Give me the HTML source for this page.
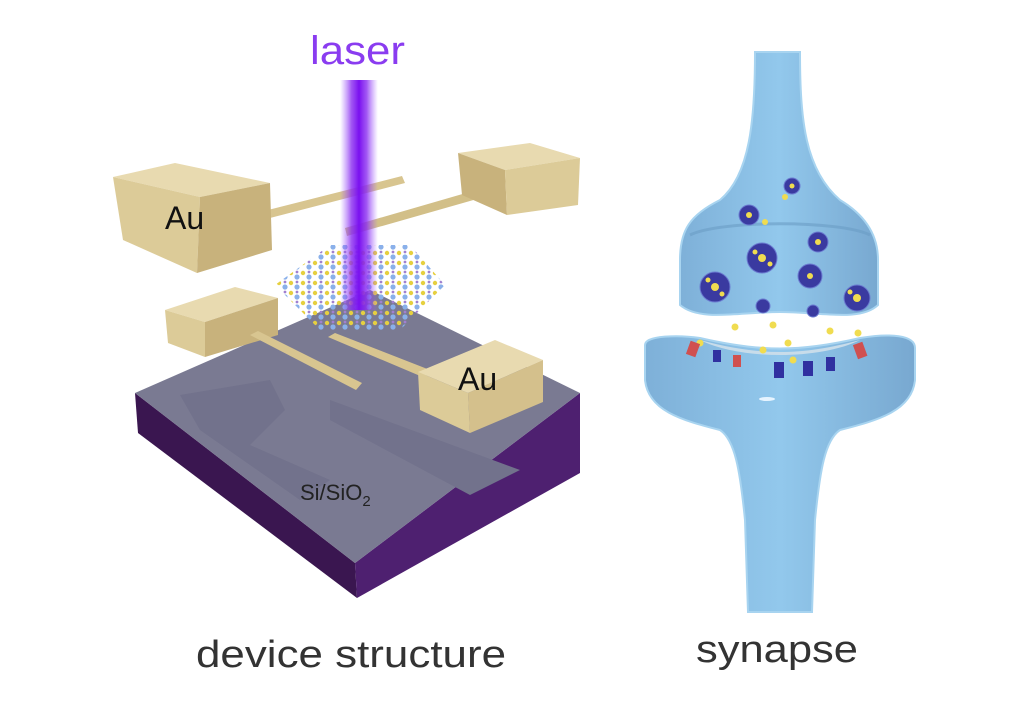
<!DOCTYPE html>
<html><head><meta charset="utf-8"><style>
html,body{margin:0;padding:0;background:#fff;width:1015px;height:720px;overflow:hidden}
svg{display:block}
</style></head><body>
<svg width="1015" height="720" viewBox="0 0 1015 720" xmlns="http://www.w3.org/2000/svg">
<defs>
<linearGradient id="beam" x1="0" x2="1" y1="0" y2="0">
<stop offset="0" stop-color="#a060ff" stop-opacity="0"/>
<stop offset="0.3" stop-color="#8a2cf0" stop-opacity="0.8"/>
<stop offset="0.5" stop-color="#7a10f0"/>
<stop offset="0.7" stop-color="#8a2cf0" stop-opacity="0.8"/>
<stop offset="1" stop-color="#a060ff" stop-opacity="0"/>
</linearGradient>
<linearGradient id="syn" x1="0" x2="1">
<stop offset="0" stop-color="#7eb0d8"/>
<stop offset="0.5" stop-color="#92c8ec"/>
<stop offset="1" stop-color="#78a8d0"/>
</linearGradient>
<pattern id="lat" width="12" height="10" patternUnits="userSpaceOnUse">
<circle cx="3" cy="3" r="2.2" fill="#e6d040"/>
<circle cx="9" cy="7" r="2.6" fill="#8ab0ea"/>
<circle cx="9" cy="2" r="1.4" fill="#a080d0"/>
</pattern>
</defs>

<text x="310" y="64" textLength="95" lengthAdjust="spacingAndGlyphs" font-family="Liberation Sans, sans-serif" font-size="40" fill="#8a3cf0">laser</text>

<!-- substrate -->
<polygon points="135,393 355,563 357,598 138,433" fill="#3a1650"/>
<polygon points="355,563 580,393 580,473 357,598" fill="#4e2070"/>
<polygon points="135,393 370,290 580,393 355,563" fill="#7a7a92"/>
<polygon points="180,395 270,380 285,410 250,445 330,480 300,500 200,430" fill="#72728c"/>
<polygon points="330,400 520,470 470,495 330,420" fill="#72728c"/>
<text x="300" y="500" font-family="Liberation Sans, sans-serif" font-size="22" fill="#222">Si/SiO<tspan font-size="15" dy="6">2</tspan></text>

<!-- top bars -->
<polygon points="268,210 402,176 405,183 270,218" fill="#d8c590"/>
<polygon points="497,184 345,228 347,236 498,193" fill="#d2bf88"/>

<!-- top left Au -->
<polygon points="113,177 175,163 270,183 200,197" fill="#e8dab0"/>
<polygon points="113,177 200,197 197,273 123,240" fill="#dccb98"/>
<polygon points="200,197 270,183 272,250 197,273" fill="#c8b27c"/>
<text x="165" y="229" font-family="Liberation Sans, sans-serif" font-size="32" fill="#111">Au</text>

<!-- top right Au -->
<polygon points="458,153 530,143 580,158 505,170" fill="#e8dab0"/>
<polygon points="458,153 505,170 507,215 462,195" fill="#c8b27c"/>
<polygon points="505,170 580,158 578,205 507,215" fill="#dccb98"/>

<!-- lattice -->
<polygon points="275,285 330,245 410,245 445,285 400,330 320,330" fill="url(#lat)"/>

<!-- beam -->
<rect x="340" y="80" width="38" height="230" fill="url(#beam)"/>

<!-- lower-left Au -->
<polygon points="165,310 235,287 278,298 205,322" fill="#e8dab0"/>
<polygon points="165,310 205,322 205,357 168,343" fill="#dccb98"/>
<polygon points="205,322 278,298 278,335 205,357" fill="#c8b27c"/>

<!-- lower bars -->
<polygon points="250,335 258,331 362,383 356,390" fill="#d8c590"/>
<polygon points="328,337 335,333 430,370 425,378" fill="#d8c590"/>

<!-- lower-right Au -->
<polygon points="418,372 495,340 543,360 468,393" fill="#e8dab0"/>
<polygon points="418,372 468,393 470,433 420,410" fill="#dccb98"/>
<polygon points="468,393 543,360 543,402 470,433" fill="#d4c08c"/>
<text x="458" y="390" font-family="Liberation Sans, sans-serif" font-size="32" fill="#111">Au</text>

<text x="196" y="667" textLength="310" lengthAdjust="spacingAndGlyphs" font-family="Liberation Sans, sans-serif" font-size="38" fill="#333">device structure</text>

<!-- synapse upper -->
<path d="M755,52 L800,52 C800,120 805,170 840,200 C865,215 878,235 878,260 L878,305 C860,322 820,312 780,312 C740,312 700,322 680,305 L680,260 C680,230 690,215 720,200 C750,175 755,120 755,52 Z" fill="url(#syn)" stroke="#a8d4f0" stroke-width="2"/>
<path d="M690,235 C720,220 840,220 870,235" fill="none" stroke="#6a9cc4" stroke-width="3" opacity="0.6"/>
<!-- synapse lower -->
<path d="M645,345 C645,335 680,335 700,338 C760,352 800,352 860,338 C890,333 915,335 915,348 L915,380 C912,410 880,420 840,430 C825,440 820,470 815,520 L812,612 L748,612 L745,520 C740,470 735,440 720,430 C680,420 648,410 645,380 Z" fill="url(#syn)" stroke="#a8d4f0" stroke-width="2"/>
<path d="M700,340 C760,356 800,356 860,340 C820,360 740,360 700,340 Z" fill="#c8dcea"/>
<!-- vesicles -->
<g fill="#3a3aa0" stroke="#6a7ad0">
<circle cx="792" cy="186" r="8"/><circle cx="749" cy="215" r="10"/><circle cx="818" cy="242" r="10"/>
<circle cx="762" cy="258" r="15"/><circle cx="715" cy="287" r="15"/><circle cx="810" cy="276" r="12"/>
<circle cx="857" cy="298" r="13"/><circle cx="763" cy="306" r="7"/><circle cx="813" cy="311" r="6"/>
</g>
<g fill="#f0dc50">
<circle cx="792" cy="186" r="2.5"/><circle cx="749" cy="215" r="3"/><circle cx="818" cy="242" r="3"/>
<circle cx="762" cy="258" r="4"/><circle cx="755" cy="252" r="2.5"/><circle cx="770" cy="264" r="2.5"/>
<circle cx="715" cy="287" r="4"/><circle cx="708" cy="280" r="2.5"/><circle cx="722" cy="294" r="2.5"/>
<circle cx="810" cy="276" r="3"/><circle cx="857" cy="298" r="4"/><circle cx="850" cy="292" r="2.5"/>
<circle cx="785" cy="197" r="3"/><circle cx="765" cy="222" r="3"/>
<circle cx="735" cy="327" r="3.5"/><circle cx="773" cy="325" r="3.5"/><circle cx="830" cy="331" r="3.5"/>
<circle cx="858" cy="333" r="3.5"/><circle cx="788" cy="343" r="3.5"/><circle cx="763" cy="350" r="3.5"/>
<circle cx="793" cy="360" r="3.5"/><circle cx="700" cy="343" r="3.5"/>
</g>
<g>
<rect x="688" y="342" width="10" height="14" fill="#d05050" transform="rotate(20 693 349)"/>
<rect x="713" y="350" width="8" height="12" fill="#3030a0"/>
<rect x="733" y="355" width="8" height="12" fill="#d05050"/>
<rect x="774" y="362" width="10" height="16" fill="#3030a0"/>
<rect x="803" y="361" width="10" height="15" fill="#3030a0"/>
<rect x="826" y="357" width="9" height="14" fill="#3030a0"/>
<rect x="855" y="343" width="10" height="15" fill="#d05050" transform="rotate(-20 860 350)"/>
</g>
<ellipse cx="767" cy="399" rx="8" ry="2" fill="#e6f4ff"/>

<text x="696" y="662" textLength="162" lengthAdjust="spacingAndGlyphs" font-family="Liberation Sans, sans-serif" font-size="38" fill="#333">synapse</text>
</svg>
</body></html>
